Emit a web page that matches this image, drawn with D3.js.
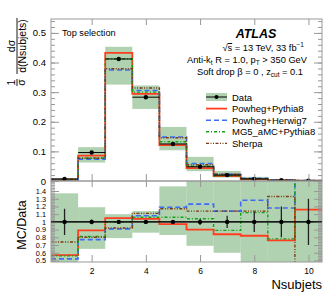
<!DOCTYPE html>
<html>
<head>
<meta charset="utf-8">
<script src="https://cdn.jsdelivr.net/npm/d3@7"></script>
<style>
  body { margin: 0; background: #fff; }
  svg { font-family: "Liberation Sans", Arial, sans-serif; }
  .ax text { fill: #000; }
  .ax line { stroke: #999; }
  .ax path { display: none; }
</style>
</head>
<body>
<svg id="chart" width="333" height="297"></svg>
<script>
// bins of Nsubjets
var nsub = [1, 2, 3, 4, 5, 6, 7, 8, 9, 10];
// unfolded data, normalised
var dataVals = [0.007, 0.096, 0.412, 0.283, 0.125, 0.048, 0.020, 0.007, 0.0025, 0.0008];
// relative stat. error on data points
var dataErr = [0.17, 0.03, 0.012, 0.012, 0.02, 0.04, 0.08, 0.13, 0.20, 0.30];
// total uncertainty band (relative to data)
var bandHi = [1.37, 1.19, 1.10, 1.14, 1.46, 1.70, 1.70, 2.0, 2.0, 2.0];
var bandLo = [0.30, 0.65, 0.79, 0.86, 0.83, 0.69, 0.60, 0.3, 0.3, 0.3];
// MC / Data
var powPy8 = [0.57, 0.89, 1.05, 1.04, 0.97, 0.90, 0.84, 0.82, 0.76, 1.16];
var powHw7 = [0.52, 0.77, 0.91, 1.08, 1.19, 1.23, 1.14, 1.28, 1.18, 2.2];
var mg5Py8 = [0.56, 0.81, 1.00, 1.06, 1.06, 1.04, 0.89, 1.12, 0.78, 1.9];
var sherpa = [0.74, 0.80, 0.92, 1.11, 1.17, 1.14, 1.14, 1.14, 1.33, 0.1];

var mainTicks = [0, 0.1, 0.2, 0.3, 0.4, 0.5];
var ratioTicks = [0.5, 0.6, 0.7, 0.8, 0.9, 1, 1.1, 1.2, 1.3, 1.4];
var xTicks = [2, 4, 6, 8, 10];

var svg = d3.select("#chart");
var L = 51, R = 322, T = 19, M = 181, B = 262;

var x = d3.scaleLinear().domain([0.5, 10.5]).range([L, R]);
var y = d3.scaleLinear().domain([0, 0.547]).range([M, T]);
var yr = d3.scaleLinear().domain([0.48, 1.53]).range([B, M]);

var defs = svg.append("defs");
defs.append("clipPath").attr("id", "cm").append("rect")
  .attr("x", L).attr("y", T).attr("width", R - L).attr("height", M - T);
defs.append("clipPath").attr("id", "cr").append("rect")
  .attr("x", L).attr("y", M).attr("width", R - L).attr("height", B - M);

var series = [
  {name: "Powheg+Pythia8", vals: powPy8, color: "#ff3d1f", dash: null, w: 1.8},
  {name: "Powheg+Herwig7", vals: powHw7, color: "#3f6cf5", dash: "5,3", w: 1.6},
  {name: "MG5_aMC+Pythia8", vals: mg5Py8, color: "#15a015", dash: "3,2,1,2", w: 1.4},
  {name: "Sherpa", vals: sherpa, color: "#7a3a14", dash: "3,1.5,1,1.5,1,1.5", w: 1.4}
];

var stepPts = function(vals) {
  var pts = [];
  vals.forEach(function(v, i) {
    pts.push([nsub[i] - 0.5, v]);
    pts.push([nsub[i] + 0.5, v]);
  });
  return pts;
};

// ---- panels
var drawPanel = function(ys, clip, band, scaleMC, dataY) {
  var g = svg.append("g").attr("clip-path", "url(#" + clip + ")");
  g.selectAll("rect.band").data(nsub).enter().append("rect")
    .attr("x", function(d) { return x(d - 0.5); })
    .attr("width", function(d) { return x(d + 0.5) - x(d - 0.5); })
    .attr("y", function(d, i) { return ys(band.hi(i)); })
    .attr("height", function(d, i) { return ys(band.lo(i)) - ys(band.hi(i)); })
    .attr("fill", "#8fbf8f").attr("fill-opacity", 0.7);

  series.forEach(function(s) {
    var vals = s.vals.map(scaleMC);
    g.append("path")
      .attr("d", d3.line().x(function(p) { return x(p[0]); }).y(function(p) { return ys(p[1]); })(stepPts(vals)))
      .attr("fill", "none").attr("stroke", s.color).attr("stroke-width", s.w)
      .attr("stroke-dasharray", s.dash);
  });

  // data: horizontal segments, error bars and markers
  g.selectAll("line.dh").data(nsub).enter().append("line")
    .attr("x1", function(d) { return x(d - 0.5); })
    .attr("x2", function(d) { return x(d + 0.5); })
    .attr("y1", function(d, i) { return ys(dataY(i)); })
    .attr("y2", function(d, i) { return ys(dataY(i)); })
    .attr("stroke", "#000").attr("stroke-width", 1);
  g.selectAll("line.de").data(nsub).enter().append("line")
    .attr("x1", function(d) { return x(d); })
    .attr("x2", function(d) { return x(d); })
    .attr("y1", function(d, i) { return ys(dataY(i) * (1 - dataErr[i])); })
    .attr("y2", function(d, i) { return ys(dataY(i) * (1 + dataErr[i])); })
    .attr("stroke", "#222").attr("stroke-width", 1.3);
  g.selectAll("circle").data(nsub).enter().append("circle")
    .attr("cx", function(d) { return x(d); })
    .attr("cy", function(d, i) { return ys(dataY(i)); })
    .attr("r", 2.2).attr("fill", "#000");
};

drawPanel(y, "cm",
  {hi: function(i) { return dataVals[i] * bandHi[i]; }, lo: function(i) { return dataVals[i] * bandLo[i]; }},
  function(v, i) { return v * dataVals[i]; },
  function(i) { return dataVals[i]; });

drawPanel(yr, "cr",
  {hi: function(i) { return bandHi[i]; }, lo: function(i) { return bandLo[i]; }},
  function(v) { return v; },
  function(i) { return 1; });

// ---- axes
var minorMain = d3.range(0, 0.5401, 0.02);
var minorRatio = d3.range(0.5, 1.5201, 0.02);

var yAxes = function(scale, major, minor, fmt, fs) {
  svg.append("g").attr("class", "ax").attr("transform", "translate(" + L + ",0)")
    .call(d3.axisLeft(scale).tickValues(minor).tickSize(-4).tickFormat(""));
  svg.append("g").attr("class", "ax").attr("transform", "translate(" + L + ",0)")
    .call(d3.axisLeft(scale).tickValues(major).tickSize(-8).tickPadding(5).tickFormat(fmt))
    .selectAll("text").attr("font-size", fs);
  svg.append("g").attr("class", "ax").attr("transform", "translate(" + R + ",0)")
    .call(d3.axisRight(scale).tickValues(minor).tickSize(-4).tickFormat(""));
  svg.append("g").attr("class", "ax").attr("transform", "translate(" + R + ",0)")
    .call(d3.axisRight(scale).tickValues(major).tickSize(-8).tickFormat(""));
};
yAxes(y, mainTicks, minorMain, function(d) { return d === 0 ? "0" : d3.format(".1f")(d); }, 9.5);
yAxes(yr, ratioTicks, minorRatio, function(d) { return d === 1 ? "1" : d3.format(".1f")(d); }, 7.3);

svg.append("g").attr("class", "ax").attr("transform", "translate(0," + T + ")")
  .call(d3.axisBottom(x).tickValues(xTicks).tickSize(6).tickFormat(""));
svg.append("g").attr("class", "ax").attr("transform", "translate(0," + M + ")")
  .call(d3.axisBottom(x).tickValues(xTicks).tickSize(-7).tickFormat(""));
svg.append("g").attr("class", "ax").attr("transform", "translate(0," + M + ")")
  .call(d3.axisBottom(x).tickValues(xTicks).tickSize(6).tickFormat(""));
svg.append("g").attr("class", "ax").attr("transform", "translate(0," + B + ")")
  .call(d3.axisBottom(x).tickValues(xTicks).tickSize(-7).tickPadding(6))
  .selectAll("text").attr("font-size", 8.5);

// frames
svg.append("rect").attr("x", L).attr("y", T).attr("width", R - L).attr("height", M - T)
  .attr("fill", "none").attr("stroke", "#999");
svg.append("rect").attr("x", L).attr("y", M).attr("width", R - L).attr("height", B - M)
  .attr("fill", "none").attr("stroke", "#999");
// line at one in ratio
svg.append("line").attr("x1", L).attr("x2", R).attr("y1", yr(1)).attr("y2", yr(1))
  .attr("stroke", "#000").attr("stroke-width", 1);

// ---- axis titles
var yl = svg.append("g").attr("transform", "translate(17,46) rotate(-90)").attr("font-size", 10.5);
yl.append("line").attr("x1", -28).attr("x2", 28).attr("y1", 0).attr("y2", 0).attr("stroke", "#000").attr("stroke-width", 0.9);
yl.append("text").attr("x", 0).attr("y", -2.5).attr("text-anchor", "middle").text("dσ");
yl.append("text").attr("x", 0).attr("y", 8.5).attr("text-anchor", "middle").text("d(Nsubjets)");
yl.append("line").attr("x1", -40).attr("x2", -33).attr("y1", 0).attr("y2", 0).attr("stroke", "#000").attr("stroke-width", 0.9);
yl.append("text").attr("x", -36.5).attr("y", -2.5).attr("text-anchor", "middle").text("1");
yl.append("text").attr("x", -36.5).attr("y", 8).attr("text-anchor", "middle").text("σ");

svg.append("text").attr("transform", "translate(26,225) rotate(-90)")
  .attr("text-anchor", "middle").attr("font-size", 12.5).text("MC/Data");
svg.append("text").attr("x", R).attr("y", 289).attr("text-anchor", "end")
  .attr("font-size", 13).text("Nsubjets");

// ---- annotations
svg.append("text").attr("x", 62).attr("y", 36).attr("font-size", 9.2).text("Top selection");
svg.append("text").attr("x", 256).attr("y", 38).attr("text-anchor", "middle")
  .attr("font-size", 12.5).attr("font-weight", "bold").attr("font-style", "italic").text("ATLAS");

var t1 = svg.append("text").attr("x", 304).attr("y", 51).attr("text-anchor", "end").attr("font-size", 9.3);
t1.append("tspan").text("√");
t1.append("tspan").style("text-decoration", "overline").text("s");
t1.append("tspan").text(" = 13 TeV, 33 fb");
t1.append("tspan").attr("font-size", 6.5).attr("dy", -4).text("−1");

var t2 = svg.append("text").attr("x", 307).attr("y", 63).attr("text-anchor", "end").attr("font-size", 9.3);
t2.append("tspan").text("Anti-k");
t2.append("tspan").attr("font-size", 6.5).attr("dy", 2).text("t");
t2.append("tspan").attr("dy", -2).text(" R = 1.0, p");
t2.append("tspan").attr("font-size", 6.5).attr("dy", 2).text("T");
t2.append("tspan").attr("dy", -2).text(" > 350 GeV");

var t3 = svg.append("text").attr("x", 303).attr("y", 75).attr("text-anchor", "end").attr("font-size", 9.3);
t3.append("tspan").text("Soft drop β = 0 , z");
t3.append("tspan").attr("font-size", 6.5).attr("dy", 2).text("cut");
t3.append("tspan").attr("dy", -2).text(" = 0.1");

// ---- legend
var lx0 = 206, lx1 = 227, ly0 = 97, ldy = 11.6;
var lg = svg.append("g").attr("font-size", 9.5);
lg.append("rect").attr("x", lx0).attr("y", ly0 - 4).attr("width", lx1 - lx0).attr("height", 8)
  .attr("fill", "#8fbf8f").attr("fill-opacity", 0.7);
lg.append("line").attr("x1", lx0).attr("x2", lx1).attr("y1", ly0).attr("y2", ly0).attr("stroke", "#000");
lg.append("circle").attr("cx", (lx0 + lx1) / 2).attr("cy", ly0).attr("r", 2).attr("fill", "#000");
lg.append("text").attr("x", 232).attr("y", ly0 + 3.5).text("Data");
series.forEach(function(s, i) {
  var yy = ly0 + ldy * (i + 1);
  lg.append("line").attr("x1", lx0).attr("x2", lx1).attr("y1", yy).attr("y2", yy)
    .attr("stroke", s.color).attr("stroke-width", s.w).attr("stroke-dasharray", s.dash);
  lg.append("text").attr("x", 232).attr("y", yy + 3.5).text(s.name);
});
</script>
</body>
</html>
